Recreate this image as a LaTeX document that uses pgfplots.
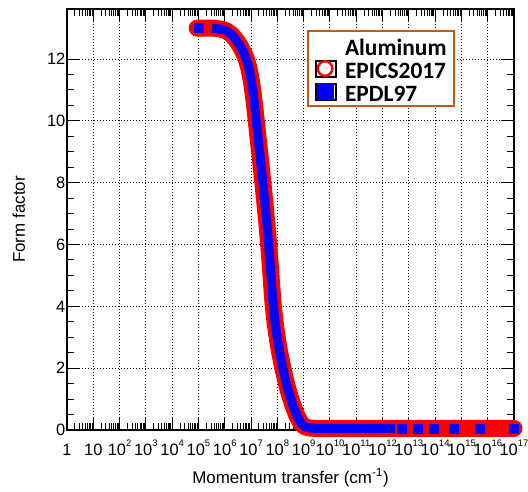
\documentclass[border=0pt]{standalone}
\usepackage{fontspec}
\setmainfont{Liberation Sans}
\newfontfamily\carlito{Carlito}
\usepackage{pgfplots}
\pgfplotsset{compat=1.18}
\usepackage{pgfplotstable}
\definecolor{legframe}{RGB}{197,90,17}
% small superscript for the decade labels
\newcommand\ex[1]{10\raisebox{0.5em}{\fontsize{9.5}{9.5}\selectfont #1}}
\pgfplotsset{legimg/.style={legend image code/.code={%
  \path (0bp,-8bp) rectangle (20bp,8bp);
  \draw[##1] plot coordinates {(9bp,0bp)};}}}

% EPICS2017: log10(momentum transfer) and form factor
\pgfplotstableread{
lx F
4.95 13.00
5.30 13.00
5.60 13.00
5.85 12.97
6.05 12.92
6.25 12.80
6.45 12.60
6.60 12.40
6.72 12.20
6.82 12.00
6.92 11.70
7.02 11.25
7.10 10.75
7.18 10.15
7.26 9.50
7.35 8.80
7.45 8.00
7.53 7.30
7.60 6.70
7.67 6.00
7.75 5.10
7.83 4.15
7.91 3.50
8.00 2.95
8.10 2.45
8.21 2.00
8.33 1.55
8.46 1.15
8.60 0.78
8.75 0.45
8.90 0.22
9.05 0.10
9.25 0.06
9.60 0.05
11.0 0.05
13.0 0.05
15.0 0.05
17.0 0.05
}\epicstab

% EPDL97, dense part
\pgfplotstableread{
lx F
5.52 13.00
5.85 12.97
6.05 12.92
6.25 12.80
6.45 12.60
6.60 12.40
6.72 12.20
6.82 12.00
6.92 11.70
7.02 11.25
7.10 10.75
7.18 10.15
7.26 9.50
7.35 8.80
7.45 8.00
7.53 7.30
7.60 6.70
7.67 6.00
7.75 5.10
7.83 4.15
7.91 3.50
8.00 2.95
8.10 2.45
8.21 2.00
8.33 1.55
8.46 1.15
8.60 0.78
8.75 0.45
8.90 0.22
9.05 0.10
9.25 0.06
9.60 0.05
11.0 0.05
12.47 0.05
}\epdlline

% EPDL97, isolated points
\pgfplotstableread{
lx F
5.00 13.00
12.74 0.05
13.35 0.05
13.95 0.05
14.70 0.05
15.70 0.05
17.00 0.05
}\epdlpts

\begin{document}
\begin{tikzpicture}
\begin{axis}[
  scale only axis, width=447bp, height=421bp,
  xmode=log, xmin=1, xmax=1e17,
  ymin=0, ymax=13.62,
  clip=false,
  xtick={1,10,100,1e3,1e4,1e5,1e6,1e7,1e8,1e9,1e10,1e11,1e12,1e13,1e14,1e15,1e16,1e17},
  xticklabels={1,10,\ex{2},\ex{3},\ex{4},\ex{5},\ex{6},\ex{7},\ex{8},\ex{9},\ex{10},\ex{11},\ex{12},\ex{13},\ex{14},\ex{15},\ex{16},\ex{17}},
  ytick={0,2,...,12}, minor y tick num=3,
  tick align=inside, major tick length=13bp, minor tick length=7bp,
  tick style={black, line width=1bp},
  axis line style={line width=1.2bp},
  grid=major,
  major grid style={black, line width=1bp, dash pattern=on 1bp off 2bp},
  /pgf/number format/assume math mode=true,
  tick label style={font=\fontsize{16.5}{19}\selectfont},
  xticklabel style={anchor=base, yshift=-25bp, inner sep=0pt},
  yticklabel style={inner xsep=1.5bp},
  label style={font=\fontsize{17}{20}\selectfont},
  xlabel={Momentum transfer (cm\textsuperscript{-1})},
  ylabel={Form factor},
  xlabel style={at={(axis description cs:0.5,-0.126)}, anchor=base},
  ylabel style={at={(axis description cs:-0.094,0.5)}, anchor=base},
  legend style={at={(axis description cs:0.537,0.950)}, anchor=north west,
    draw=legframe, line width=2bp, fill=white,
    font=\carlito\bfseries\fontsize{23.5}{23}\selectfont,
    inner xsep=7bp, inner ysep=3bp, column sep=8bp,
    nodes={inner sep=0pt, text height=21bp, text depth=2bp}},
  legend cell align=left,
]
\addplot[red, line width=17bp, line cap=round, line join=round, forget plot]
  table[x expr=10^\thisrow{lx}, y=F] {\epicstab};
\addplot[blue, line width=9bp, line join=round, forget plot]
  table[x expr=10^\thisrow{lx}, y=F] {\epdlline};
\addplot[only marks, mark=square*, mark size=4.5bp, blue, forget plot]
  table[x expr=10^\thisrow{lx}, y=F] {\epdlpts};

\addlegendimage{empty legend}
\addlegendentry{Aluminum}
\addlegendimage{legimg, only marks, mark=o, mark size=7.3bp, mark options={draw=red, line width=2.4bp}}
\addlegendentry{EPICS2017}
\addlegendimage{legimg, only marks, mark=square*, mark size=8bp, mark options={draw=blue, fill=blue, line width=0.1bp}}
\addlegendentry{EPDL97}
\end{axis}
\pgfresetboundingbox
\path[use as bounding box] ([shift={(-67bp,-62bp)}]current axis.south west) rectangle ([shift={(14bp,9bp)}]current axis.north east);
\end{tikzpicture}
\end{document}
